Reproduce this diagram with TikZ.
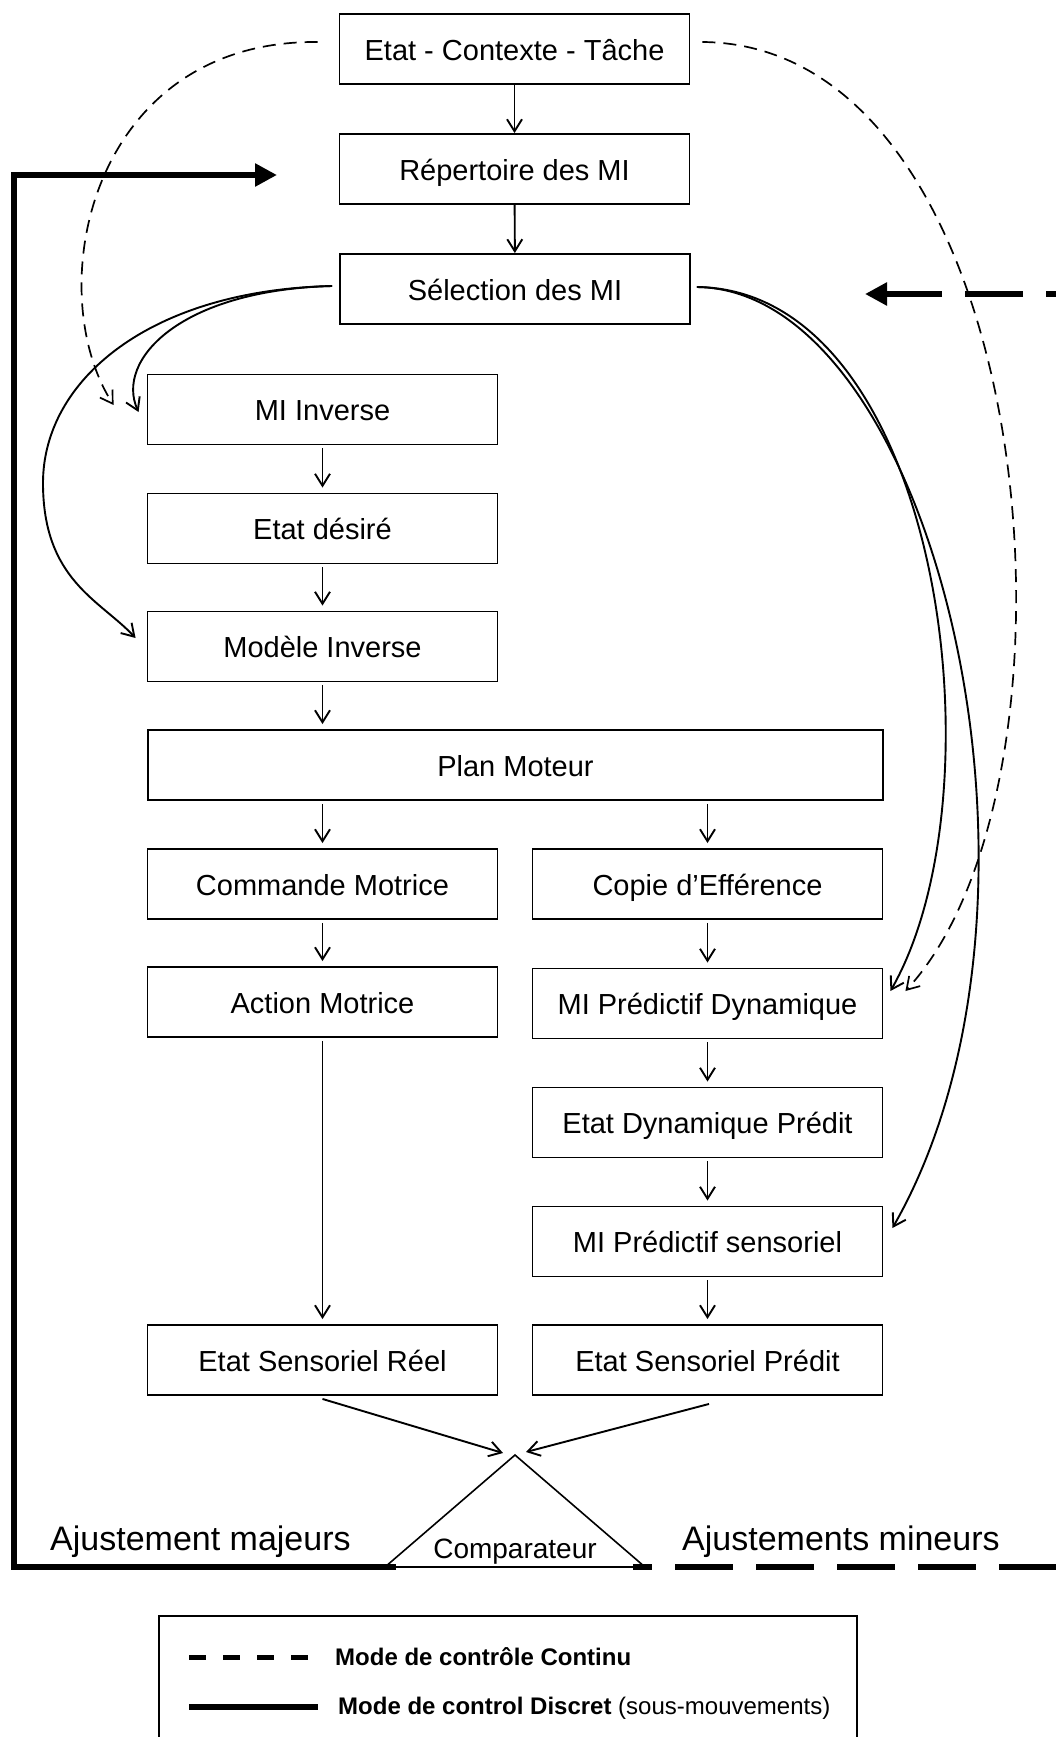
\documentclass[tikz,border=0pt]{standalone}
\usepackage{fontspec}
\setmainfont{Liberation Sans}
\usetikzlibrary{positioning}
\usetikzlibrary{calc}
\usetikzlibrary{arrows.meta}

\begin{document}
\begin{tikzpicture}[x=1pt, y=-1pt,
  box/.style={draw=black, line width=1.9pt, rectangle, minimum width=350pt, minimum height=70pt, inner sep=0pt, text height=25pt, text depth=3pt, font=\fontsize{29}{34}\selectfont},
  flow/.style={-{Straight Barb[length=12pt,width=15pt]}, line width=1.9pt},
  cont/.style={-{Straight Barb[length=12pt,width=15pt]}, line width=1.7pt, dash pattern=on 13pt off 8pt},
  major/.style={-{Triangle[length=22pt,width=22pt]}, line width=6pt, line join=miter},
  minor/.style={-{Triangle[length=22pt,width=22pt]}, line width=6pt, line join=miter, dash pattern=on 58pt off 23pt, dash phase=39pt},
  label/.style={anchor=base west, inner sep=0pt}]

\useasboundingbox (0,0) rectangle (1056,1737);

\node[box] (ECT) at (514.5, 49) {Etat - Contexte - Tâche};
\node[box] (REP) at (514.5, 169) {Répertoire des MI};
\node[box] (SEL) at (515, 289) {Sélection des MI};
\node[box] (MIINV) at (322.5, 409.5) {MI Inverse};
\node[box] (DESIRE) at (322.5, 528.5) {Etat désiré};
\node[box] (MODINV) at (322.5, 646.5) {Modèle Inverse};
\node[box, minimum width=735pt] (PLAN) at (515.5, 765) {Plan Moteur};
\node[box] (CMD) at (322.5, 884) {Commande Motrice};
\node[box] (COPIE) at (707.5, 884) {Copie d’Efférence};
\node[box] (ACTION) at (322.5, 1002) {Action Motrice};
\node[box] (MIDYN) at (707.5, 1003.5) {MI Prédictif Dynamique};
\node[box] (DYNPRED) at (707.5, 1122.5) {Etat Dynamique Prédit};
\node[box] (MISENS) at (707.5, 1241.5) {MI Prédictif sensoriel};
\node[box] (SREEL) at (322.5, 1360) {Etat Sensoriel Réel};
\node[box] (SPRED) at (707.5, 1360) {Etat Sensoriel Prédit};

\coordinate (APEX) at (515, 1455);
\coordinate (CMPL) at (385, 1567);
\coordinate (CMPR) at (645, 1567);
\draw[line width=1.6pt] (CMPL) -- (APEX) -- (CMPR) -- cycle;
\node[anchor=base, inner sep=0pt, font=\fontsize{28}{32}\selectfont] (CMPTXT) at (515, 1558) {Comparateur};

\node[label, font=\fontsize{34}{40}\selectfont] (MAJ) at (50, 1550) {Ajustement majeurs};
\node[label, font=\fontsize{34}{40}\selectfont] (MIN) at (682, 1550) {Ajustements mineurs};

\draw[flow] (ECT) -- (REP);
\draw[flow] (REP) -- (SEL);
\draw[flow, shorten <=3pt, shorten >=5pt] (MIINV) -- (DESIRE);
\draw[flow, shorten <=3pt, shorten >=5pt] (DESIRE) -- (MODINV);
\draw[flow, shorten <=3pt, shorten >=5pt] (MODINV) -- (MODINV |- PLAN.north);
\draw[flow, shorten <=3pt, shorten >=5pt] (PLAN.south -| CMD) -- (CMD);
\draw[flow, shorten <=3pt, shorten >=5pt] (PLAN.south -| COPIE) -- (COPIE);
\draw[flow, shorten <=3pt, shorten >=5pt] (CMD) -- (ACTION);
\draw[flow, shorten <=3pt, shorten >=5pt] (COPIE) -- (MIDYN);
\draw[flow, shorten <=3pt, shorten >=5pt] (MIDYN) -- (DYNPRED);
\draw[flow, shorten <=3pt, shorten >=5pt] (DYNPRED) -- (MISENS);
\draw[flow, shorten <=3pt, shorten >=5pt] (MISENS) -- (SPRED);
\draw[flow, shorten <=3pt, shorten >=5pt] (ACTION) -- (SREEL);

\draw[flow] ($(SREEL.south)+(0,3)$) -- ($(APEX)+(-12,-2)$);
\draw[flow] ($(SPRED.south)+(1.5,8)$) -- ($(APEX)+(11,-3)$);

\draw[flow] ($(SEL.west)+(-7,-3)$) .. controls (180,290) and (115,360) .. ($(MIINV.west)+(-8,2.5)$);
\draw[flow] ($(SEL.west)+(-7,-3)$) .. controls (150,290) and (43,380) .. (43,483) .. controls (43,580) and (100,600) .. ($(MODINV.west)+(-11,-8.5)$);
\draw[flow] ($(SEL.east)+(6,-2)$) .. controls (940,290) and (1005,790) .. ($(MIDYN.east)+(7,-12.5)$);
\draw[flow] ($(SEL.east)+(6,-2)$) .. controls (935,290) and (1080,900) .. ($(MISENS.east)+(9,-13.5)$);

\draw[cont] ($(ECT.west)+(-21,-7)$) .. controls (90,40) and (40,290) .. ($(MIINV.west)+(-33,-4.5)$);
\draw[cont] ($(ECT.east)+(12,-7)$) .. controls (1040,45) and (1100,780) .. ($(MIDYN.east)+(22,-12.5)$);

\coordinate (MAJEND) at (277, 175);
\coordinate (MINEND) at (865, 294);
\draw[major] ($(CMPL)+(11,0)$) -| (14, 175) -- (MAJEND);
\draw[minor] ($(CMPR)+(-12,0)$) -- (1063, 1567) -- (1063, 294) -- (MINEND);

\draw[line width=1.8pt] (159, 1616) rectangle (857, 1760);
\coordinate (CONTA) at (189, 1657);
\coordinate (CONTB) at (311, 1657);
\coordinate (DISCA) at (189, 1707);
\coordinate (DISCB) at (318, 1707);
\draw[line width=5pt, dash pattern=on 17pt off 17pt] (CONTA) -- (CONTB);
\draw[line width=6pt] (DISCA) -- (DISCB);
\node[label, font=\fontsize{24}{28}\selectfont] (CONTTXT) at (335, 1665) {\textbf{Mode de contrôle Continu}};
\node[label, font=\fontsize{24}{28}\selectfont] (DISCTXT) at (338, 1714) {\textbf{Mode de control Discret} (sous-mouvements)};

\end{tikzpicture}
\end{document}
